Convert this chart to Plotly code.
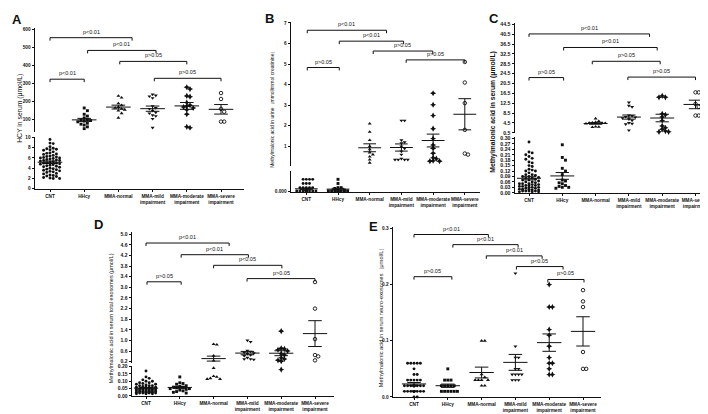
import math
import numpy as np
import plotly.graph_objects as go

W, H = 708, 414
FONT = "Liberation Sans, Arial, sans-serif"
INK = "#111111"

GROUPS = ["CNT", "HHcy", "MMA-normal", "MMA-mild<br>impairment",
          "MMA-moderate<br>impairment", "MMA-severe<br>impairment"]

# ---------------- data: panel A (HCY in serum, umol/L) ----------------
A_CNT = [9.6, 8.9, 8.8, 8.2, 7.9, 7.8, 7.7, 7.6, 7.5, 7.2, 7.0, 6.9, 6.8, 6.7, 6.5,
         6.4, 6.3, 6.2, 6.1, 6.0, 6.0, 5.9, 5.8, 5.7, 5.6, 5.5, 5.5, 5.4, 5.3, 5.2,
         5.1, 5.0, 5.0, 4.9, 4.8, 4.7, 4.6, 4.5, 4.4, 4.3, 4.2, 4.0, 3.9, 3.8, 3.7,
         3.6, 3.5, 3.4, 3.3, 3.2, 3.0, 2.9, 2.7, 2.6, 2.5, 2.4, 2.2, 2.1, 2.0, 2.0]
A_HHCY = [165, 150, 130, 120, 110, 100, 98, 95, 92, 88, 80, 75, 70, 60, 50]
A_NORMAL = [232, 222, 190, 180, 170, 165, 160, 155, 150, 135, 110]
A_MILD = [240, 235, 230, 220, 175, 165, 160, 150, 140, 135, 125, 120, 105, 55]
A_MODERATE = [280, 270, 232, 228, 195, 180, 175, 170, 165, 155, 130, 60, 55]
A_SEVERE = [248, 215, 160, 144, 89, 89]

# ---------------- data: panel B (MMA in urine) ----------------
B_CNT = [0.015, 0.015, 0.015, 0.015, 0.010, 0.010, 0.010, 0.005, 0.005, 0.005,
         0.005, 0.005, 0.001, 0.001, 0.001, 0.001, 0.001, 0.001, 0.001, 0.001,
         0.001, 0.001, 0.001, 0.001, 0.001, 0.001, 0.001, 0.001, 0.001, 0.001,
         0.001, 0.001, 0.001, 0.001, 0.001, 0.001, 0.001, 0.001, 0.001, 0.001]
B_HHCY = [0.015, 0.010, 0.005, 0.005, 0.004, 0.002, 0.001, 0.001, 0.001, 0.001,
          0.001, 0.001, 0.001, 0.001, 0.001, 0.001]
B_NORMAL = [2.1, 1.7, 1.3, 1.0, 0.85, 0.7, 0.6, 0.5, 0.35, 0.2]
B_MILD = [2.25, 2.25, 1.3, 1.2, 1.15, 1.0, 0.9, 0.75, 0.6, 0.4, 0.35, 0.35, 0.35, 0.35]
B_MODERATE = [3.58, 3.02, 2.5, 1.86, 1.38, 1.06, 0.9, 0.66, 0.45, 0.4, 0.3, 0.28, 0.28]
B_SEVERE = [5.1, 4.1, 3.1, 1.8, 0.65, 0.6]

# ---------------- data: panel C (MMA in serum) ----------------
C_CNT = [0.28, 0.225, 0.22, 0.21, 0.2, 0.19, 0.185, 0.17, 0.165, 0.15, 0.145, 0.13,
         0.125, 0.12, 0.12, 0.11, 0.1, 0.1, 0.095, 0.09, 0.09, 0.085, 0.08, 0.08,
         0.075, 0.07, 0.07, 0.065, 0.06, 0.06, 0.055, 0.05, 0.05, 0.05, 0.045, 0.045,
         0.04, 0.04, 0.04, 0.035, 0.035, 0.03, 0.03, 0.03, 0.025, 0.025, 0.02, 0.02,
         0.02, 0.015, 0.015, 0.01, 0.01, 0.01, 0.01, 0.005, 0.005, 0.005]
C_HHCY = [0.265, 0.195, 0.18, 0.135, 0.12, 0.1, 0.07, 0.065, 0.055, 0.05, 0.04,
          0.035, 0.03, 0.03, 0.025]
C_NORMAL = [6.3, 5.2, 4.8, 4.6, 4.5, 4.5, 4.4, 4.2, 3.0, 2.9, 2.8]
C_MILD = [12.8, 11.5, 11.0, 7.6, 7.4, 7.0, 6.8, 6.5, 6.0, 5.5, 4.5, 4.2, 4.0, 1.5]
C_MODERATE = [15.5, 14.9, 14.9, 8.2, 7.8, 6.9, 5.5, 3.3, 2.5, 1.9, 1.2, 0.9, 0.9]
C_SEVERE = [16.9, 16.9, 12.2, 11.0, 7.5, 7.5]

# ---------------- data: panel D (MMA in serum total exosomes) ----------------
D_CNT = [0.17, 0.13, 0.12, 0.11, 0.1, 0.1, 0.09, 0.09, 0.085, 0.08, 0.08, 0.075,
         0.07, 0.07, 0.07, 0.065, 0.06, 0.06, 0.06, 0.055, 0.055, 0.05, 0.05, 0.05,
         0.05, 0.045, 0.045, 0.045, 0.04, 0.04, 0.04, 0.04, 0.035, 0.035, 0.035,
         0.035, 0.03, 0.03, 0.03, 0.03, 0.03, 0.025, 0.025, 0.025, 0.025, 0.02, 0.02,
         0.02, 0.02, 0.02, 0.015, 0.015, 0.015]
D_HHCY = [0.13, 0.09, 0.085, 0.08, 0.07, 0.065, 0.06, 0.06, 0.055, 0.05, 0.05,
          0.045, 0.04, 0.035, 0.03, 0.025, 0.02]
D_NORMAL = [0.86, 0.84, 0.42, 0.24, 0.19, 0.135, 0.13, 0.12, 0.115, 0.115]
D_MILD = [1.0, 0.95, 0.62, 0.58, 0.55, 0.52, 0.5, 0.45, 0.42, 0.35, 0.3, 0.3, 0.28]
D_MODERATE = [1.35, 0.7, 0.68, 0.65, 0.6, 0.5, 0.45, 0.35, 0.3, 0.25, 0.22, 0.18]
D_SEVERE = [3.2, 2.2, 1.05, 0.45, 0.4, 0.25]

# ---------------- data: panel E (MMA in serum neuro-exosomes) ----------------
E_CNT = [0.06, 0.06, 0.06, 0.06, 0.06, 0.05, 0.04, 0.04, 0.03, 0.03, 0.03, 0.03,
         0.03, 0.02, 0.02, 0.02, 0.02, 0.02, 0.02, 0.02, 0.02, 0.02, 0.02, 0.02,
         0.02, 0.02, 0.02, 0.02, 0.01, 0.01, 0.01, 0.01, 0.01, 0.01, 0.01, 0.01,
         0.01, 0.01, 0.01, 0.01, 0.01, 0.01, 0.0, 0.0]
E_HHCY = [0.05, 0.03, 0.03, 0.03, 0.02, 0.02, 0.02, 0.02, 0.02, 0.01, 0.01, 0.01,
          0.01, 0.01, 0.01]
E_NORMAL = [0.1, 0.1, 0.04, 0.035, 0.03, 0.03, 0.03, 0.03, 0.02, 0.02]
E_MILD = [0.22, 0.09, 0.07, 0.07, 0.05, 0.05, 0.04, 0.04, 0.04, 0.04, 0.03, 0.03, 0.03]
E_MODERATE = [0.2, 0.16, 0.16, 0.12, 0.11, 0.09, 0.07, 0.06, 0.06, 0.05, 0.04, 0.04]
E_SEVERE = [0.19, 0.17, 0.16, 0.08, 0.05, 0.05]

# ---------------- tick values / labels ----------------
A_LOW_TICKS = [0, 2, 4, 6, 8, 10]
A_UP_TICKS = [100, 200, 300, 400, 500, 600]
B_LOW_TICKS = [0.0]
B_LOW_LABELS = ["0.000"]
B_UP_TICKS = [1, 2, 3, 4, 5, 6, 7]
C_LOW_TICKS = [0.00, 0.03, 0.06, 0.09, 0.12, 0.15, 0.18, 0.21, 0.24, 0.27, 0.30]
C_UP_TICKS = [0.5, 4.5, 8.5, 12.5, 16.5, 20.5, 24.5, 28.5, 32.5, 36.5, 40.5, 44.5]
D_LOW_TICKS = [0.00, 0.05, 0.10, 0.15, 0.20]
D_UP_TICKS = [0.2, 0.6, 1.0, 1.4, 1.8, 2.2, 2.6, 3.0, 3.4, 3.8, 4.2, 4.6, 5.0]
E_TICKS = [0.0, 0.1, 0.2, 0.3]

# ---------------- comparisons: (from group, to group, level, label) ----------------
A_CMP = [(0.0, 2.4, 556, "p&lt;0.01"), (1.1, 3.1, 485, "p&lt;0.01"),
         (2.04, 4.0, 424, "p&gt;0.05"), (0.0, 1.0, 325, "p&lt;0.01"),
         (3.05, 5.0, 330, "p&gt;0.05")]
B_CMP = [(0.03, 2.53, 6.64, "p&lt;0.01"), (1.04, 3.07, 6.11, "p&lt;0.01"),
         (2.11, 3.99, 5.63, "p&gt;0.05"), (0.03, 1.04, 4.83, "p&gt;0.05"),
         (3.15, 5.0, 5.2, "p&gt;0.05")]
C_CMP = [(0.0, 3.62, 40.6, "p&lt;0.01"), (1.04, 3.85, 35.1, "p&lt;0.01"),
         (1.9, 3.94, 29.5, "p&gt;0.05"), (0.0, 1.04, 22.9, "p&gt;0.05"),
         (2.97, 5.0, 23.1, "p&gt;0.05")]
D_CMP = [(0.0, 2.46, 4.67, "p&lt;0.01"), (1.04, 3.03, 4.23, "p&lt;0.01"),
         (2.0, 4.02, 3.83, "p&lt;0.05"), (0.03, 1.04, 3.21, "p&gt;0.05"),
         (2.99, 5.0, 3.33, "p&gt;0.05")]
E_CMP = [(0.0, 2.2, 0.289, "p&lt;0.01"), (1.15, 3.08, 0.271, "p&lt;0.01"),
         (2.14, 3.79, 0.251, "p&lt;0.01"), (3.03, 4.41, 0.232, "p&lt;0.05"),
         (0.0, 1.12, 0.214, "p&gt;0.05"), (3.96, 5.03, 0.209, "p&gt;0.05")]

# ---------------- styling ----------------
SYMS = ["circle", "square", "triangle-up", "triangle-down", "star-diamond", "circle-open"]
SIZES = [2.9, 2.9, 3.5, 3.5, 4.4, 3.5]
DOT = 3.2          # swarm spacing (px)
MAXHALF = 11.0     # max half-width of a swarm (px)


def make_seg(dom, ref, ticks, labels=None):
    va, pa, vb, pb = ref
    ppu = (pa - pb) / (vb - va)
    top, bot = dom
    lo = va + (pa - bot) / ppu
    hi = va + (pa - top) / ppu
    return dict(dom=dom, ppu=ppu, va=va, pa=pa, rng=(lo, hi), ticks=ticks,
                labels=labels)


def px_of(seg, v):
    return seg["pa"] - (v - seg["va"]) * seg["ppu"]


def fmt(ticks, nd):
    return [f"{t:.{nd}f}" for t in ticks]


PANELS = [
    dict(letter="A", letter_xy=(9, 10), title="HCY in serum (μmol/L)", title_xy=(12, 100),
         title_size=6.8, title_bold=False, tick_size=4.7,
         x_px=(27, 236), cat0=42, catpx=34.2,
         segs=[make_seg((128.5, 181), (0, 181, 10, 129), A_LOW_TICKS, [str(t) for t in A_LOW_TICKS]),
               make_seg((18, 123.5), (100, 111, 600, 20), A_UP_TICKS, [str(t) for t in A_UP_TICKS])],
         groups=[A_CNT, A_HHCY, A_NORMAL, A_MILD, A_MODERATE, A_SEVERE], cmp=A_CMP),
    dict(letter="B", letter_xy=(261, 9),
         title="Methylmalonic acid in urine（mmol/mmol creatinine）", title_xy=(264, 100),
         title_size=5.0, title_bold=False, tick_size=4.7,
         x_px=(283, 472), cat0=298.3, catpx=31.7,
         segs=[make_seg((163, 184), (0, 184, 0.025, 163), B_LOW_TICKS, B_LOW_LABELS),
               make_seg((12, 158), (1, 138, 7, 13), B_UP_TICKS, [str(t) for t in B_UP_TICKS])],
         groups=[B_CNT, B_HHCY, B_NORMAL, B_MILD, B_MODERATE, B_SEVERE], cmp=B_CMP),
    dict(letter="C", letter_xy=(486, 9), title="Methylmalonic acid in serum (μmol/L)",
         title_xy=(485, 103), title_size=6.8, title_bold=True, tick_size=5.2,
         x_px=(507, 707), cat0=521, catpx=33.3,
         segs=[make_seg((129, 185), (0, 185, 0.30, 130), C_LOW_TICKS, fmt(C_LOW_TICKS, 2)),
               make_seg((13.5, 125), (0.5, 124.3, 44.5, 14.5), C_UP_TICKS, fmt(C_UP_TICKS, 1))],
         groups=[C_CNT, C_HHCY, C_NORMAL, C_MILD, C_MODERATE, C_SEVERE], cmp=C_CMP),
    dict(letter="D", letter_xy=(90, 217),
         title="Methylmalonic acid in serum total exosomes (μmol/L)", title_xy=(103, 312),
         title_size=5.5, title_bold=False, tick_size=5.0,
         x_px=(124, 326), cat0=138, catpx=33.8,
         segs=[make_seg((360, 390.7), (0, 390.7, 0.2, 361), D_LOW_TICKS, fmt(D_LOW_TICKS, 2)),
               make_seg((225, 357), (0.2, 356, 5.0, 227), D_UP_TICKS, fmt(D_UP_TICKS, 1))],
         groups=[D_CNT, D_HHCY, D_NORMAL, D_MILD, D_MODERATE, D_SEVERE], cmp=D_CMP),
    dict(letter="E", letter_xy=(366, 219),
         title="Methylmalonic acid in serum neuro-exosomes（μmol/L）", title_xy=(373, 310),
         title_size=5.6, title_bold=False, tick_size=4.7,
         x_px=(385, 593), cat0=406, catpx=33.8,
         segs=[make_seg((220, 391.7), (0, 391.7, 0.3, 221), E_TICKS, fmt(E_TICKS, 1))],
         groups=[E_CNT, E_HHCY, E_NORMAL, E_MILD, E_MODERATE, E_SEVERE], cmp=E_CMP),
]


def swarm(py):
    n = len(py)
    order = sorted(range(n), key=lambda i: py[i])
    steps = int(MAXHALF // DOT)
    cands = [0.0]
    for k in range(1, steps + 1):
        cands += [k * DOT, -k * DOT]
    placed = []
    offs = [0.0] * n
    for i in order:
        y = py[i]
        best, bestscore = 0.0, -1.0
        for c in cands:
            md = min((math.hypot(c - ox, y - oy) for ox, oy in placed), default=1e9)
            if md >= DOT * 0.97:
                best = c
                break
            if md > bestscore:
                bestscore, best = md, c
        placed.append((best, y))
        offs[i] = best
    return offs


def seg_index(segs, v):
    for k, s in enumerate(segs):
        if v <= s["rng"][1]:
            return k
    return len(segs) - 1


fig = go.Figure()
layout = {}
annotations = []
xi = 0
yi = 0


def name(prefix, i):
    return prefix if i == 1 else f"{prefix}{i}"


def key(prefix, i):
    return f"{prefix}axis" if i == 1 else f"{prefix}axis{i}"


for P in PANELS:
    xi += 1
    xn = name("x", xi)
    segs = P["segs"]
    ynames = []
    for s in segs:
        yi += 1
        ynames.append(name("y", yi))
        top, bot = s["dom"]
        layout[key("y", yi)] = dict(
            domain=[1 - bot / H, 1 - top / H], range=list(s["rng"]), anchor=xn,
            showline=True, linecolor=INK, linewidth=1, ticks="outside", ticklen=2.5,
            tickwidth=1, tickcolor=INK, tickvals=s["ticks"], ticktext=s["labels"],
            tickfont=dict(family=FONT, size=P["tick_size"], color=INK, weight="bold"),
            showgrid=False, zeroline=False, fixedrange=True)
    l, r = P["x_px"]
    c0, cp = P["cat0"], P["catpx"]
    layout[key("x", xi)] = dict(
        domain=[l / W, r / W], range=[(l - c0) / cp, (r - c0) / cp], anchor=ynames[0],
        showline=True, linecolor=INK, linewidth=1, ticks="outside", ticklen=2.5,
        tickwidth=1, tickcolor=INK, tickvals=list(range(len(GROUPS))), ticktext=GROUPS,
        tickangle=0,
        tickfont=dict(family=FONT, size=4.7, color=INK, weight="bold"),
        showgrid=False, zeroline=False, fixedrange=True)

    for g, vals in enumerate(P["groups"]):
        ks = [seg_index(segs, v) for v in vals]
        py = [px_of(segs[k], v) for k, v in zip(ks, vals)]
        offs = swarm(py)
        for k in range(len(segs)):
            xs = [g + o / cp for o, kk in zip(offs, ks) if kk == k]
            ys = [v for v, kk in zip(vals, ks) if kk == k]
            if not xs:
                continue
            sym = SYMS[g]
            mk = dict(symbol=sym, size=SIZES[g], color=INK)
            if sym.endswith("open"):
                mk["line"] = dict(width=0.9, color=INK)
            else:
                mk["line"] = dict(width=0)
            fig.add_trace(go.Scatter(x=xs, y=ys, mode="markers", marker=mk,
                                     xaxis=xn, yaxis=ynames[k], cliponaxis=False,
                                     hoverinfo="skip"))
        arr = np.array(vals, dtype=float)
        m = float(arr.mean())
        se = float(arr.std(ddof=1) / math.sqrt(len(arr)))
        k = seg_index(segs, m)
        lx = [g - 0.36, g + 0.36, None, g, g, None, g - 0.2, g + 0.2, None, g - 0.2, g + 0.2]
        ly = [m, m, None, m - se, m + se, None, m - se, m - se, None, m + se, m + se]
        fig.add_trace(go.Scatter(x=lx, y=ly, mode="lines",
                                 line=dict(color=INK, width=1),
                                 xaxis=xn, yaxis=ynames[k], cliponaxis=False,
                                 hoverinfo="skip"))

    # comparison brackets in the top segment
    ts = segs[-1]
    tk = 3.0 / ts["ppu"]
    bx, by = [], []
    for a, b, lev, lab in P["cmp"]:
        bx += [a, a, b, b, None]
        by += [lev - tk, lev, lev, lev - tk, None]
        annotations.append(dict(x=(a + b) / 2, y=lev, xref=xn, yref=ynames[-1],
                                text=lab, showarrow=False, yanchor="bottom", yshift=1,
                                font=dict(family=FONT, size=5.5, color=INK)))
    fig.add_trace(go.Scatter(x=bx, y=by, mode="lines", line=dict(color=INK, width=1),
                             xaxis=xn, yaxis=ynames[-1], cliponaxis=False,
                             hoverinfo="skip"))

    lx_, ly_ = P["letter_xy"]
    annotations.append(dict(x=lx_ / W, y=1 - ly_ / H, xref="paper", yref="paper",
                            text="<b>" + P["letter"] + "</b>", showarrow=False,
                            xanchor="center", yanchor="middle",
                            font=dict(family=FONT, size=13, color=INK)))
    tx, ty = P["title_xy"]
    ttl = P["title"]
    if P["title_bold"]:
        ttl = "<b>" + ttl + "</b>"
    annotations.append(dict(x=tx / W, y=1 - ty / H, xref="paper", yref="paper",
                            text=ttl, showarrow=False, textangle=-90,
                            xanchor="center", yanchor="middle",
                            font=dict(family=FONT, size=P["title_size"], color=INK)))

layout.update(dict(width=W, height=H, margin=dict(l=0, r=0, t=0, b=0),
                   paper_bgcolor="white", plot_bgcolor="white", showlegend=False,
                   annotations=annotations))
fig.update_layout(**layout)
fig.write_html("out.html")
